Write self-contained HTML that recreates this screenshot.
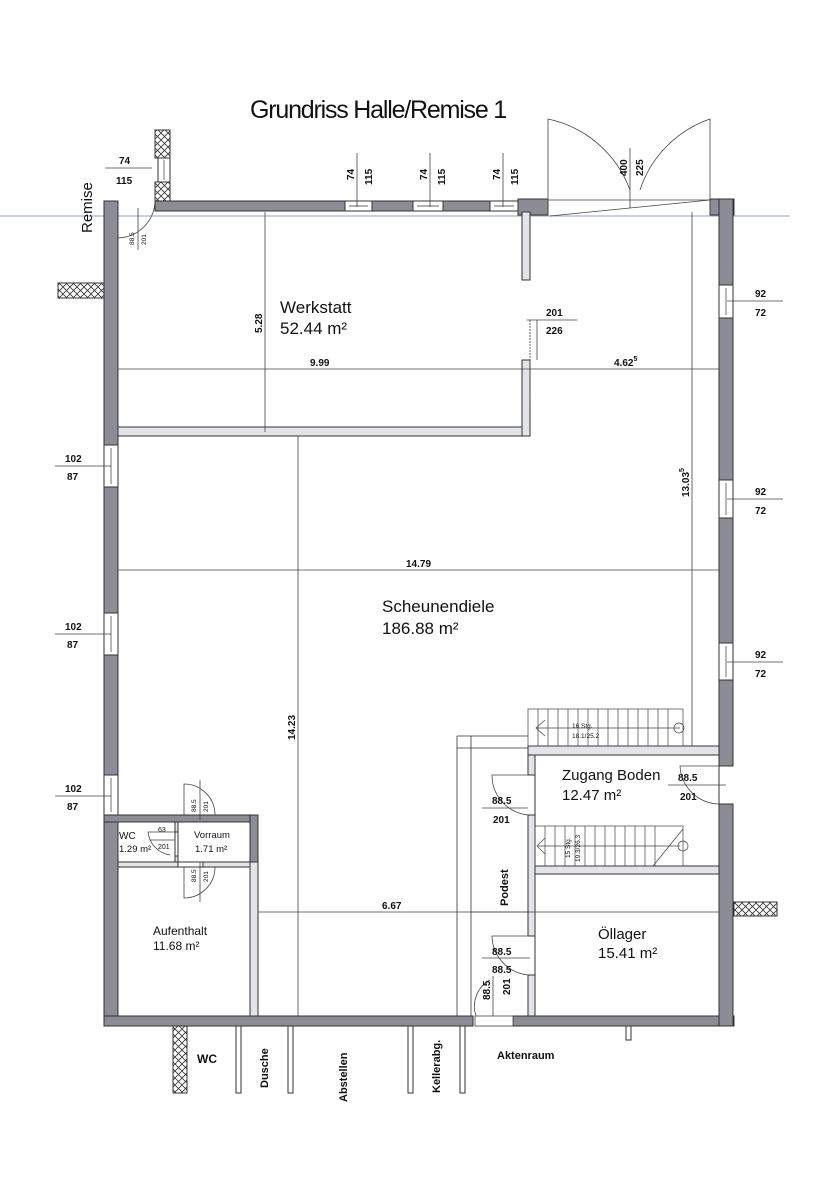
<!DOCTYPE html>
<html><head><meta charset="utf-8"><style>
html,body{margin:0;padding:0;background:#fff;}
svg{display:block;}
text{font-family:"Liberation Sans",sans-serif;fill:#111;}
.b{font-weight:bold;}
</style></head><body>
<svg width="838" height="1199" viewBox="0 0 838 1199" xmlns="http://www.w3.org/2000/svg">
<defs>
<pattern id="x" width="7" height="7" patternUnits="userSpaceOnUse">
<rect width="7" height="7" fill="#fff"/><path d="M0 0L7 7M7 0L0 7" stroke="#333" stroke-width="0.8"/>
</pattern>
</defs>
<text x="250" y="118" font-size="25" letter-spacing="-1.2">Grundriss Halle/Remise 1</text>

<!-- blue line -->
<line x1="0" y1="216" x2="790" y2="216" stroke="#8aa6c8" stroke-width="1"/>

<g stroke="#333" stroke-width="1">
<!-- exterior walls (dark grey) -->
<g fill="#8c8c96">
<rect x="104" y="201" width="14" height="244"/>
<rect x="104" y="487" width="14" height="126"/>
<rect x="104" y="655" width="14" height="120"/>
<rect x="104" y="815" width="14" height="211"/>
<rect x="104" y="1016" width="369" height="10"/>
<rect x="513" y="1016" width="221" height="10"/>
<rect x="155" y="201" width="190" height="10"/>
<rect x="372" y="201" width="41" height="10"/>
<rect x="443" y="201" width="47" height="10"/>
<rect x="518" y="199" width="30" height="16"/>
<rect x="710" y="199" width="24" height="16"/>
<rect x="719" y="199" width="14" height="86"/>
<rect x="719" y="318" width="14" height="162"/>
<rect x="719" y="518" width="14" height="125"/>
<rect x="719" y="680" width="14" height="86"/>
<rect x="719" y="804" width="14" height="222"/>
<rect x="104" y="815" width="154" height="7"/>
<rect x="250" y="815" width="8" height="201"/>
</g>
<!-- windows -->
<g fill="#fff">
<rect x="345" y="201" width="27" height="10"/><rect x="413" y="201" width="30" height="10"/><rect x="490" y="201" width="28" height="10"/>
<rect x="104" y="445" width="14" height="42"/><rect x="104" y="613" width="14" height="42"/><rect x="104" y="775" width="14" height="40"/>
<rect x="719" y="285" width="14" height="33"/><rect x="719" y="480" width="14" height="38"/><rect x="719" y="643" width="14" height="37"/>
<rect x="158" y="158" width="12" height="24"/>
</g>
<g stroke-width="0.7">
<line x1="349" y1="206" x2="368" y2="206"/><line x1="417" y1="206" x2="439" y2="206"/><line x1="494" y1="206" x2="514" y2="206"/>
<line x1="111" y1="448" x2="111" y2="484"/><line x1="111" y1="616" x2="111" y2="652"/><line x1="111" y1="778" x2="111" y2="812"/>
<line x1="726" y1="288" x2="726" y2="315"/><line x1="726" y1="483" x2="726" y2="515"/><line x1="726" y1="646" x2="726" y2="677"/>
<line x1="164" y1="160" x2="164" y2="180"/>
</g>
<!-- crosshatch -->
<g fill="url(#x)">
<rect x="155" y="130" width="15" height="28"/><rect x="155" y="182" width="15" height="19"/>
<rect x="58" y="283" width="46" height="15"/>
<rect x="734" y="902" width="43" height="14"/>
<rect x="173" y="1026" width="14" height="67"/>
</g>
<!-- interior walls light -->
<g fill="#e2e4ea">
<rect x="118" y="427" width="412" height="9"/>
<rect x="522" y="360" width="8" height="76"/>
<rect x="522" y="212" width="8" height="68"/>
<rect x="528" y="746" width="191" height="9"/>
<rect x="528" y="755" width="7" height="20"/>
<rect x="528" y="815" width="7" height="121"/>
<rect x="528" y="975" width="7" height="41"/>
<rect x="535" y="866" width="184" height="8"/>
<rect x="250" y="862" width="8" height="154"/>
<rect x="118" y="862" width="60" height="5"/>
<rect x="203" y="862" width="47" height="5"/>
<rect x="175" y="822" width="3" height="10"/>
<rect x="175" y="856" width="3" height="6"/>
</g>
<!-- bottom posts -->
<g fill="#fff">
<rect x="236" y="1026" width="5" height="67"/><rect x="288" y="1026" width="5" height="67"/>
<rect x="408" y="1026" width="5" height="67"/><rect x="460" y="1026" width="5" height="67"/>
<rect x="626" y="1026" width="5" height="14"/>
</g>
<!-- room boxes -->
<g fill="none">
<rect x="118" y="822" width="57" height="40"/>
<rect x="178" y="822" width="72" height="40"/>
<rect x="118" y="867" width="132" height="149"/>
<rect x="535" y="874" width="184" height="142"/>
<rect x="535" y="755" width="184" height="111"/>
</g>
<!-- Podest -->
<g fill="none" stroke-width="0.8">
<line x1="457" y1="736" x2="457" y2="1016"/><line x1="471" y1="736" x2="471" y2="1016"/>
<line x1="457" y1="736" x2="528" y2="736"/><line x1="457" y1="748" x2="528" y2="748"/>
<line x1="471" y1="912" x2="528" y2="912"/>
</g>
</g>

<!-- dimension lines -->
<g stroke="#444" stroke-width="0.8" fill="none">
<line x1="118" y1="369" x2="719" y2="369"/>
<line x1="118" y1="570" x2="719" y2="570"/>
<line x1="258" y1="912" x2="719" y2="912"/>
<line x1="265" y1="212" x2="265" y2="432"/>
<line x1="298" y1="436" x2="298" y2="1016"/>
<line x1="692" y1="212" x2="692" y2="746"/>
<line x1="105" y1="168" x2="152" y2="168"/>
<line x1="357" y1="153" x2="357" y2="207"/><line x1="430" y1="153" x2="430" y2="207"/><line x1="503" y1="153" x2="503" y2="207"/>
<line x1="727" y1="301" x2="783" y2="301"/><line x1="727" y1="499" x2="783" y2="499"/><line x1="727" y1="662" x2="783" y2="662"/>
<line x1="55" y1="466" x2="111" y2="466"/><line x1="55" y1="634" x2="111" y2="634"/><line x1="55" y1="796" x2="111" y2="796"/>
<line x1="527" y1="320" x2="577" y2="320"/><line x1="537" y1="320" x2="537" y2="360"/><line x1="530" y1="320" x2="530" y2="402" stroke-dasharray="2 1"/>
<!-- doors -->
<path d="M548 215 L548 119 A112 112 0 0 1 630 190"/>
<path d="M710 215 L710 119 A112 112 0 0 0 640 190"/>
<line x1="550" y1="216" x2="710" y2="200"/>
<line x1="548" y1="200" x2="710" y2="200"/>
<line x1="630" y1="148" x2="630" y2="208"/>
<path d="M118 238 A38 38 0 0 0 155 201"/><line x1="138" y1="208" x2="138" y2="250"/>
<path d="M184 815 L184 784 A31 31 0 0 1 215 815"/><line x1="200" y1="780" x2="200" y2="820"/>
<path d="M184 867 L184 898 A31 31 0 0 0 215 867"/><line x1="200" y1="862" x2="200" y2="902"/>
<path d="M175 832 L148 832 A26 26 0 0 0 170 855"/><line x1="150" y1="840" x2="175" y2="840"/>
<path d="M528 775 L492 775 A40 40 0 0 0 528 815"/><line x1="482" y1="808" x2="528" y2="808"/>
<path d="M528 936 L492 936 A40 40 0 0 0 528 975"/><line x1="482" y1="958" x2="530" y2="958"/>
<path d="M719 766 L680 766 A40 40 0 0 0 719 804"/><line x1="668" y1="785" x2="726" y2="785"/>
<path d="M476 1016 A30 30 0 0 1 490 980"/><line x1="493" y1="976" x2="493" y2="1016"/>
<rect x="475" y="1016" width="38" height="10" fill="#fff"/>
</g>
<!-- stairs -->
<g stroke="#444" stroke-width="0.7" fill="none">
<rect x="528" y="709" width="155" height="37"/>
<path d="M538 709V746M548 709V746M558 709V746M568 709V746M578 709V746M588 709V746M598 709V746M608 709V746M618 709V746M628 709V746M638 709V746M648 709V746M658 709V746M668 709V746"/>
<line x1="536" y1="728" x2="680" y2="728"/><path d="M545 720L536 728L545 736"/><circle cx="679" cy="728" r="5"/>
<rect x="535" y="826" width="148" height="40"/>
<path d="M545 826V866M555 826V866M565 826V866M575 826V866M585 826V866M595 826V866M605 826V866M615 826V866M625 826V866M635 826V866M645 826V866M655 826V866"/>
<line x1="538" y1="846" x2="680" y2="846"/><path d="M545 838L537 846L545 854"/><circle cx="683" cy="846" r="5"/>
<line x1="653" y1="866" x2="683" y2="829"/>
</g>

<!-- labels -->
<text x="280" y="313" font-size="17">Werkstatt</text>
<text x="280" y="334" font-size="17">52.44 m²</text>
<text x="382" y="612" font-size="17">Scheunendiele</text>
<text x="382" y="634" font-size="17">186.88 m²</text>
<text x="562" y="780" font-size="15">Zugang Boden</text>
<text x="562" y="800" font-size="15">12.47 m²</text>
<text x="598" y="939" font-size="15">Öllager</text>
<text x="598" y="958" font-size="15">15.41 m²</text>
<text x="153" y="935" font-size="12">Aufenthalt</text>
<text x="153" y="950" font-size="12">11.68 m²</text>
<text x="194" y="838" font-size="9.5">Vorraum</text>
<text x="195" y="852" font-size="9.5">1.71 m²</text>
<text x="119" y="839" font-size="10">WC</text>
<text x="119" y="852" font-size="9.5">1.29 m²</text>
<text x="158" y="832" font-size="7">63</text>
<text x="158" y="849" font-size="7">201</text>

<g class="b" font-size="10">
<text class="b" x="119" y="164">74</text><text class="b" x="116" y="184">115</text>
<text class="b" x="755" y="297">92</text><text class="b" x="755" y="316">72</text>
<text class="b" x="755" y="495">92</text><text class="b" x="755" y="514">72</text>
<text class="b" x="755" y="658">92</text><text class="b" x="755" y="677">72</text>
<text class="b" x="65" y="462">102</text><text class="b" x="67" y="480">87</text>
<text class="b" x="65" y="630">102</text><text class="b" x="67" y="648">87</text>
<text class="b" x="65" y="792">102</text><text class="b" x="67" y="810">87</text>
<text class="b" x="546" y="316">201</text><text class="b" x="546" y="334">226</text>
<text class="b" x="310" y="366">9.99</text>
<text class="b" x="614" y="366">4.62<tspan font-size="7" dy="-5">5</tspan></text>
<text class="b" x="406" y="567">14.79</text>
<text class="b" x="382" y="909">6.67</text>
<text class="b" x="492" y="804">88.5</text><text class="b" x="493" y="823">201</text>
<text class="b" x="492" y="955">88.5</text><text class="b" x="492" y="973">88.5</text>
<text class="b" x="678" y="781">88.5</text><text class="b" x="680" y="800">201</text>
<text class="b" x="497" y="1059" font-size="11">Aktenraum</text>
<text class="b" x="197" y="1063" font-size="12">WC</text>
</g>
<g font-size="10" font-weight="bold">
<text transform="translate(354,180) rotate(-90)" class="b">74</text>
<text transform="translate(372,185) rotate(-90)" class="b">115</text>
<text transform="translate(427,180) rotate(-90)" class="b">74</text>
<text transform="translate(445,185) rotate(-90)" class="b">115</text>
<text transform="translate(500,180) rotate(-90)" class="b">74</text>
<text transform="translate(518,185) rotate(-90)" class="b">115</text>
<text transform="translate(627,176) rotate(-90)" class="b">400</text>
<text transform="translate(643,176) rotate(-90)" class="b">225</text>
<text transform="translate(262,333) rotate(-90)" class="b">5.28</text>
<text transform="translate(295,740) rotate(-90)" class="b">14.23</text>
<text transform="translate(689,497) rotate(-90)" class="b">13.03<tspan font-size="7" dy="-5">5</tspan></text>
<text transform="translate(490,1000) rotate(-90)" class="b">88.5</text>
<text transform="translate(510,995) rotate(-90)" class="b">201</text>
<text transform="translate(508,906) rotate(-90)" class="b" font-size="11">Podest</text>
<text transform="translate(268,1088) rotate(-90)" class="b" font-size="11">Dusche</text>
<text transform="translate(347,1102) rotate(-90)" class="b" font-size="11">Abstellen</text>
<text transform="translate(440,1093) rotate(-90)" class="b" font-size="11">Kellerabg.</text>
</g>
<g font-size="6.5">
<text transform="translate(134,245) rotate(-90)">88.5</text>
<text transform="translate(146,245) rotate(-90)">201</text>
<text transform="translate(196,812) rotate(-90)">88.5</text>
<text transform="translate(208,812) rotate(-90)">201</text>
<text transform="translate(196,882) rotate(-90)">88.5</text>
<text transform="translate(208,882) rotate(-90)">201</text>
<text x="572" y="728">16 Stg.</text><text x="572" y="738">18.1/25.2</text>
<text transform="translate(570,858) rotate(-90)">15 Stg.</text>
<text transform="translate(580,862) rotate(-90)">19.3/26.3</text>
</g>
<text transform="translate(92,233) rotate(-90)" font-size="15">Remise</text>
</svg>
</body></html>
